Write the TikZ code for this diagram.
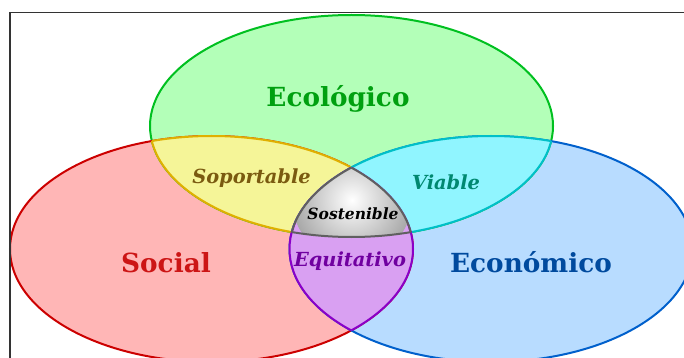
\documentclass[tikz,border=0pt]{standalone}
\usepackage{fontspec}
\setmainfont{DejaVu Serif}
\definecolor{gfill}{HTML}{B3FFB8}
\definecolor{gline}{HTML}{00C020}
\definecolor{gtext}{HTML}{00A010}
\definecolor{rfill}{HTML}{FFB6B6}
\definecolor{rline}{HTML}{CC0000}
\definecolor{rtext}{HTML}{CC1515}
\definecolor{bfill}{HTML}{B8DCFF}
\definecolor{bline}{HTML}{0060CC}
\definecolor{btext}{HTML}{004A9E}
\definecolor{yfill}{HTML}{F5F598}
\definecolor{yline}{HTML}{E0B000}
\definecolor{ytext}{HTML}{7A5A10}
\definecolor{cfill}{HTML}{90F5FF}
\definecolor{cline}{HTML}{00C0C8}
\definecolor{ctext}{HTML}{008870}
\definecolor{pfill}{HTML}{D9A0F2}
\definecolor{pline}{HTML}{8A00C8}
\definecolor{ptext}{HTML}{7000A0}
\definecolor{kline}{HTML}{606060}
\definecolor{kshade}{HTML}{A8A8A8}
\tikzset{
  border/.style={line width=2pt},
  big/.style={font=\fontsize{26.3}{30}\selectfont\bfseries, anchor=base},
  mid/.style={font=\fontsize{19.4}{24}\selectfont\bfseries\itshape, anchor=base},
  small/.style={font=\fontsize{15.5}{18}\selectfont\bfseries\itshape, anchor=base},
}
\def\Gel{(351.5,126) ellipse [x radius=201.5pt, y radius=111pt]}
\def\Rel{(211.5,249) ellipse [x radius=201.5pt, y radius=113pt]}
\def\Bel{(491,249) ellipse [x radius=201.5pt, y radius=113pt]}
\begin{document}
\begin{tikzpicture}[x=1pt,y=-1pt]
\useasboundingbox (0,0) rectangle (684,358);
\fill[white] (0,0) rectangle (684,358);
% base ellipses
\fill[gfill] \Gel;
\fill[rfill] \Rel;
\fill[bfill] \Bel;
\draw[border,gline] \Gel;
\draw[border,rline] \Rel;
\draw[border,bline] \Bel;
% yellow: green and red
\begin{scope}\clip \Gel; \fill[yfill] \Rel; \draw[border,yline] \Rel; \end{scope}
\begin{scope}\clip \Rel; \draw[border,yline] \Gel; \end{scope}
% cyan: green and blue
\begin{scope}\clip \Gel; \fill[cfill] \Bel; \draw[border,cline] \Bel; \end{scope}
\begin{scope}\clip \Bel; \draw[border,cline] \Gel; \end{scope}
% purple: red and blue
\begin{scope}\clip \Rel; \fill[pfill] \Bel; \draw[border,pline] \Bel; \end{scope}
\begin{scope}\clip \Bel; \draw[border,pline] \Rel; \end{scope}
% centre
\begin{scope}\clip \Gel; \clip \Rel; \clip \Bel;
  \shade[inner color=white, outer color=kshade] (352,200) circle [radius=60pt];
\end{scope}
\begin{scope}\clip \Gel; \clip \Rel; \draw[border,kline] \Bel; \end{scope}
\begin{scope}\clip \Gel; \clip \Bel; \draw[border,kline] \Rel; \end{scope}
\begin{scope}\clip \Rel; \clip \Bel; \draw[border,kline] \Gel; \end{scope}
% frame
\draw[line width=1.2pt, black!80] (10,358) -- (10,12.5) -- (684,12.5);
% labels
\node[big, text=gtext] (eco) at (338,107) {Ecológico};
\node[big, text=rtext] (soc) at (166,272) {Social};
\node[big, text=btext] (econ) at (531,272) {Económico};
\node[mid, text=ytext] (sop) at (251.5,183) {Soportable};
\node[mid, text=ctext] (via) at (446,189) {Viable};
\node[mid, text=ptext] (equ) at (350,266) {Equitativo};
\node[small, text=black] (sos) at (353,219) {Sostenible};
\end{tikzpicture}
\end{document}
